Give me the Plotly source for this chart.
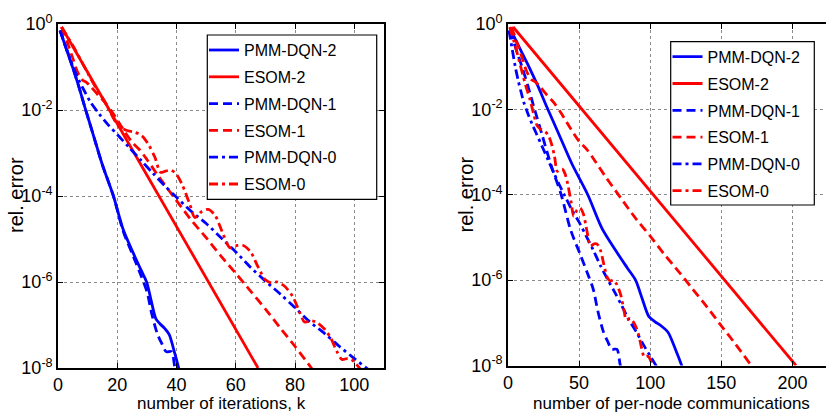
import plotly.graph_objects as go

W, H = 826, 415

# ---------------- data ----------------
# iteration index k and log10(relative error)
pmm2_k = [0.7, 3, 5, 7, 9, 12, 15, 18.7, 22, 25.4, 28, 29.9, 31.5, 33, 34.4, 36, 37.5, 39.4, 40.6, 41.2]
pmm2_e = [-0.15, -0.62, -1.02, -1.45, -1.92, -2.6, -3.28, -4.0, -4.78, -5.33, -5.72, -6.0, -6.45, -6.85,
          -6.97, -7.08, -7.22, -7.66, -7.97, -8.15]

esom2_k = [1.2, 20, 40, 67.5]
esom2_e = [-0.07, -2.32, -4.71, -8.0]

pmm1_k = [0.7, 3, 5, 7, 9, 12, 15, 18.7, 22, 25.4, 28, 30, 31.6, 33.5, 35, 36.5, 38.3, 39.4, 40.2]
pmm1_e = [-0.15, -0.62, -1.02, -1.45, -1.92, -2.6, -3.28, -4.0, -4.82, -5.4, -5.85, -6.22, -6.73, -7.2,
          -7.43, -7.62, -7.62, -7.97, -8.15]

esom1_k = [1.2, 3, 5, 6.5, 8.2, 9.5, 11, 13.5, 16.2, 19, 22, 25, 27.6, 30, 34, 39.6, 44.5, 50, 55, 60,
           64.7, 70, 75, 80, 85.5, 86.5]
esom1_e = [-0.07, -0.4, -0.8, -1.1, -1.3, -1.35, -1.45, -1.65, -1.85, -2.12, -2.45, -2.75, -2.93, -3.15,
           -3.55, -4.07, -4.52, -4.97, -5.4, -5.8, -6.19, -6.63, -7.07, -7.5, -8.0, -8.1]

pmm0_k = [0.7, 3, 5, 7, 9, 11, 14, 17, 20, 24, 28, 32, 36, 40, 45, 50, 55, 60, 65, 70, 75, 80, 85, 90,
          95, 100, 105, 106]
pmm0_e = [-0.15, -0.6, -0.98, -1.3, -1.57, -1.82, -2.1, -2.35, -2.57, -2.87, -3.17, -3.47, -3.76, -4.03,
          -4.36, -4.64, -4.97, -5.3, -5.66, -5.98, -6.28, -6.6, -6.93, -7.2, -7.5, -7.78, -8.05, -8.1]

esom0_k = [1.2, 5, 8, 10.5, 12.5, 15.5, 18, 20.5, 23, 26, 28.3, 30.5, 32.7, 34.6, 36.3, 38.2, 40, 42,
           44.5, 46.2, 48.5, 50.7, 53, 55.5, 58, 60.5, 62.5, 65, 67.5, 70, 72, 74, 76.5, 79.3, 81.5,
           83.2, 85.5, 87.5, 90, 92, 94, 95.8, 97.5, 99, 100.5, 102.3, 103]
esom0_e = [-0.07, -0.5, -0.88, -1.2, -1.45, -1.77, -2.1, -2.38, -2.47, -2.52, -2.6, -2.8, -3.1, -3.45,
           -3.42, -3.4, -3.5, -3.75, -4.2, -4.5, -4.36, -4.31, -4.45, -4.85, -5.2, -5.15, -5.15, -5.3,
           -5.65, -5.95, -6.02, -6.0, -6.1, -6.35, -6.7, -6.93, -6.9, -6.95, -7.1, -7.3, -7.6, -7.8,
           -7.78, -7.8, -7.9, -8.05, -8.1]

names = ["PMM-DQN-2", "ESOM-2", "PMM-DQN-1", "ESOM-1", "PMM-DQN-0", "ESOM-0"]
iters = [pmm2_k, esom2_k, pmm1_k, esom1_k, pmm0_k, esom0_k]
errs = [pmm2_e, esom2_e, pmm1_e, esom1_e, pmm0_e, esom0_e]
comms_per_iter = [3, 3, 2, 2, 1, 1]

colors = ["#0000FF", "#FF0000", "#0000FF", "#FF0000", "#0000FF", "#FF0000"]
dashes = ["solid", "solid", "9px,5px", "9px,5px", "9px,4px,3px,4px", "9px,4px,3px,4px"]

x1_ticks = [0, 20, 40, 60, 80, 100]
x2_ticks = [0, 50, 100, 150, 200]
y_exps = [0, -2, -4, -6, -8]
y_ticktext = ["10<sup>%d</sup>" % e for e in y_exps]

FONT = "Liberation Sans, Arial, sans-serif"

fig = go.Figure()
for i in range(6):
    ys = [10 ** v for v in errs[i]]
    shape = "linear" if dashes[i] == "solid" and names[i].startswith("ESOM") else "spline"
    common = dict(mode="lines", line=dict(color=colors[i], width=2.8, dash=dashes[i], shape=shape,
                                          smoothing=0.8), name=names[i], legendgroup=names[i])
    fig.add_trace(go.Scatter(x=iters[i], y=ys, xaxis="x", yaxis="y", legend="legend", **common))
    fig.add_trace(go.Scatter(x=[k * comms_per_iter[i] for k in iters[i]], y=ys, xaxis="x2", yaxis="y2",
                             legend="legend2", **common))


def px(x):
    return x / W


def py(y):
    return 1 - y / H


axis_common = dict(showline=True, linecolor="black", linewidth=1.6, ticks="inside", ticklen=5,
                   tickcolor="black", showgrid=True, gridcolor="#8a8a8a", griddash="dot", gridwidth=1,
                   zeroline=False, tickfont=dict(family=FONT, size=18, color="black"), automargin=False)

legend_common = dict(xanchor="left", yanchor="top", bgcolor="rgba(0,0,0,0)", borderwidth=0,
                     font=dict(family=FONT, size=16, color="black"), itemwidth=30,
                     traceorder="grouped", tracegroupgap=3)

fig.update_layout(
    width=W, height=H, margin=dict(l=0, r=0, t=0, b=0),
    paper_bgcolor="white", plot_bgcolor="white", showlegend=True,
    xaxis=dict(domain=[px(58), px(384)], anchor="y", range=[0, 110], tickvals=x1_ticks,
               mirror="ticks", **axis_common),
    yaxis=dict(domain=[py(368), py(24)], anchor="x", type="log", range=[-8, 0],
               tickvals=[10 ** e for e in y_exps], ticktext=y_ticktext, mirror="ticks", **axis_common),
    xaxis2=dict(domain=[px(508), 1.0], anchor="y2", range=[0, 223.6], tickvals=x2_ticks,
                mirror="ticks", **axis_common),
    yaxis2=dict(domain=[py(365.5), py(24)], anchor="x2", type="log", range=[-8, 0],
                tickvals=[10 ** e for e in y_exps], ticktext=y_ticktext, mirror=False, **axis_common),
    legend=dict(x=px(204), y=py(33.1), **legend_common),
    legend2=dict(x=px(667.5), y=py(39.8), **legend_common),
    shapes=[
        dict(type="rect", xref="paper", yref="paper", x0=px(207.3), x1=px(376.7), y0=py(199.3),
             y1=py(35), fillcolor="white", line=dict(color="black", width=1.2), layer="above"),
        dict(type="rect", xref="paper", yref="paper", x0=px(670.7), x1=px(814.3), y0=py(205),
             y1=py(41.7), fillcolor="white", line=dict(color="black", width=1.2), layer="above"),
    ],
    annotations=[
        dict(text="number of iterations, k", x=px(221), y=py(403), xref="paper", yref="paper",
             showarrow=False, xanchor="center", yanchor="middle",
             font=dict(family=FONT, size=17, color="black")),
        dict(text="number of per-node communications", x=px(671.3), y=py(403), xref="paper",
             yref="paper", showarrow=False, xanchor="center", yanchor="middle",
             font=dict(family=FONT, size=17, color="black")),
        dict(text="rel. error", x=px(15.5), y=py(195.5), xref="paper", yref="paper", textangle=-90,
             showarrow=False, xanchor="center", yanchor="middle",
             font=dict(family=FONT, size=20, color="black")),
        dict(text="rel. error", x=px(465.5), y=py(195), xref="paper", yref="paper", textangle=-90,
             showarrow=False, xanchor="center", yanchor="middle",
             font=dict(family=FONT, size=20, color="black")),
    ],
)

fig.write_html("out.html", config={"displayModeBar": False},
               post_script="document.body.style.margin='0';document.body.style.padding='0';")
